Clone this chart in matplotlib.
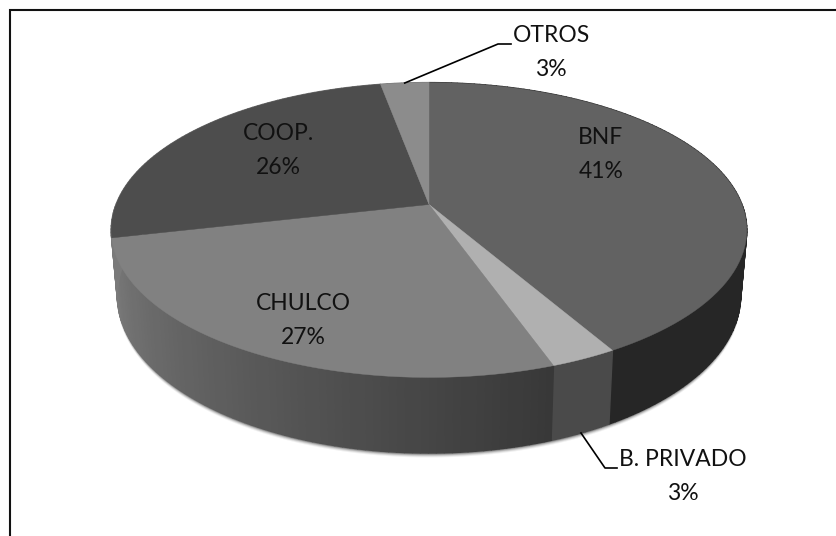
"""Perspective 3D pie of credit sources, drawn slice by slice on a pixel-sized axes."""
import matplotlib

matplotlib.use("Agg")
import matplotlib.pyplot as plt
import numpy as np

categories = ["BNF", "B. PRIVADO", "CHULCO", "COOP.", "OTROS"]
percent_labels = ["41%", "3%", "27%", "26%", "3%"]
# slice sizes (the printed labels are rounded)
shares = [41.7, 2.9, 26.8, 25.7, 2.9]

top_grays = [0.385, 0.69, 0.505, 0.30, 0.55]
side_grays = [(0.15, 0.15), (0.29, 0.29), (0.22, 0.48), (0.48, 0.48), (0.45, 0.45)]

W, H = 836, 536
CX = 429
APEX_Y = 204.5
K = 0.173


def project(theta, face="top"):
    """Map angle (radians clockwise from 12 o'clock) to pixel position on a pie face."""
    x, y = np.sin(theta), np.cos(theta)
    w = 1 + K * y
    if face == "top":
        return CX + 313 * x / w, APEX_Y - 143 * y / w
    return CX + 307 * x / w, 268 - 153 * y / w


def main():
    fig = plt.figure(figsize=(W / 100, H / 100), dpi=100)
    ax = fig.add_axes([0, 0, 1, 1])
    ax.set_xlim(0, W)
    ax.set_ylim(H, 0)
    ax.axis("off")

    # frame: only the left and top edges are visible
    ax.plot([9.5, 9.5, W], [H, 9.5, 9.5], color="#111111", lw=1.5, solid_joinstyle="miter")

    edges = np.radians(np.concatenate([[0], np.cumsum(shares)]) * 3.6)

    # soft shadow under the disc
    ring = np.linspace(0, 2 * np.pi, 300)
    for off, alpha in zip([4.5, 3.5, 2.5, 1.5], [0.06, 0.10, 0.16, 0.25]):
        bx, by = project(ring, "bottom")
        ax.fill(bx, by + off, color="black", alpha=alpha, lw=0, zorder=1)

    # side wall as short quads, stroked in their own colour so the joins close up
    for i in range(len(shares)):
        ts = np.linspace(edges[i], edges[i + 1], max(3, int(shares[i] * 3)))
        g0, g1 = side_grays[i]
        for j in range(len(ts) - 1):
            tx, ty = project(ts[j : j + 2])
            bx, by = project(ts[j : j + 2], "bottom")
            g = str(g0 + (g1 - g0) * j / (len(ts) - 2))
            ax.fill(np.r_[tx, bx[::-1]], np.r_[ty, by[::-1]], color=g, ec=g, lw=1.0, zorder=2)

    # top face
    for i in range(len(shares)):
        tx, ty = project(np.linspace(edges[i], edges[i + 1], 80))
        ax.fill(
            np.r_[CX, tx],
            np.r_[APEX_Y, ty],
            color=str(top_grays[i]),
            ec=str(top_grays[i]),
            lw=0.3,
            zorder=3,
        )

    # labels
    font = dict(family="Lato", fontsize=16.5, color="#111111", ha="center", va="center", zorder=5)
    name_pos = [(601, 137), (683, 459), (303, 304), (278, 134), (551, 36)]
    pct_pos = [(601, 171), (683, 493), (303, 337), (278, 167), (551, 69)]
    for name, pct, p, q in zip(categories, percent_labels, name_pos, pct_pos):
        ax.text(*p, name, **font)
        ax.text(*q, pct, **font)

    # leader lines for the two thin slices
    mid = (edges[:-1] + edges[1:]) / 2
    sx, sy = project(mid[4])
    ax.plot([sx, 498, 511], [sy, 44, 44], color="black", lw=1.2, zorder=4)
    sx, sy = project(mid[1], "bottom")
    ax.plot([sx, 605, 617], [sy, 468, 468], color="black", lw=1.2, zorder=4)

    fig.savefig("out.png", dpi=100)


if __name__ == "__main__":
    main()
